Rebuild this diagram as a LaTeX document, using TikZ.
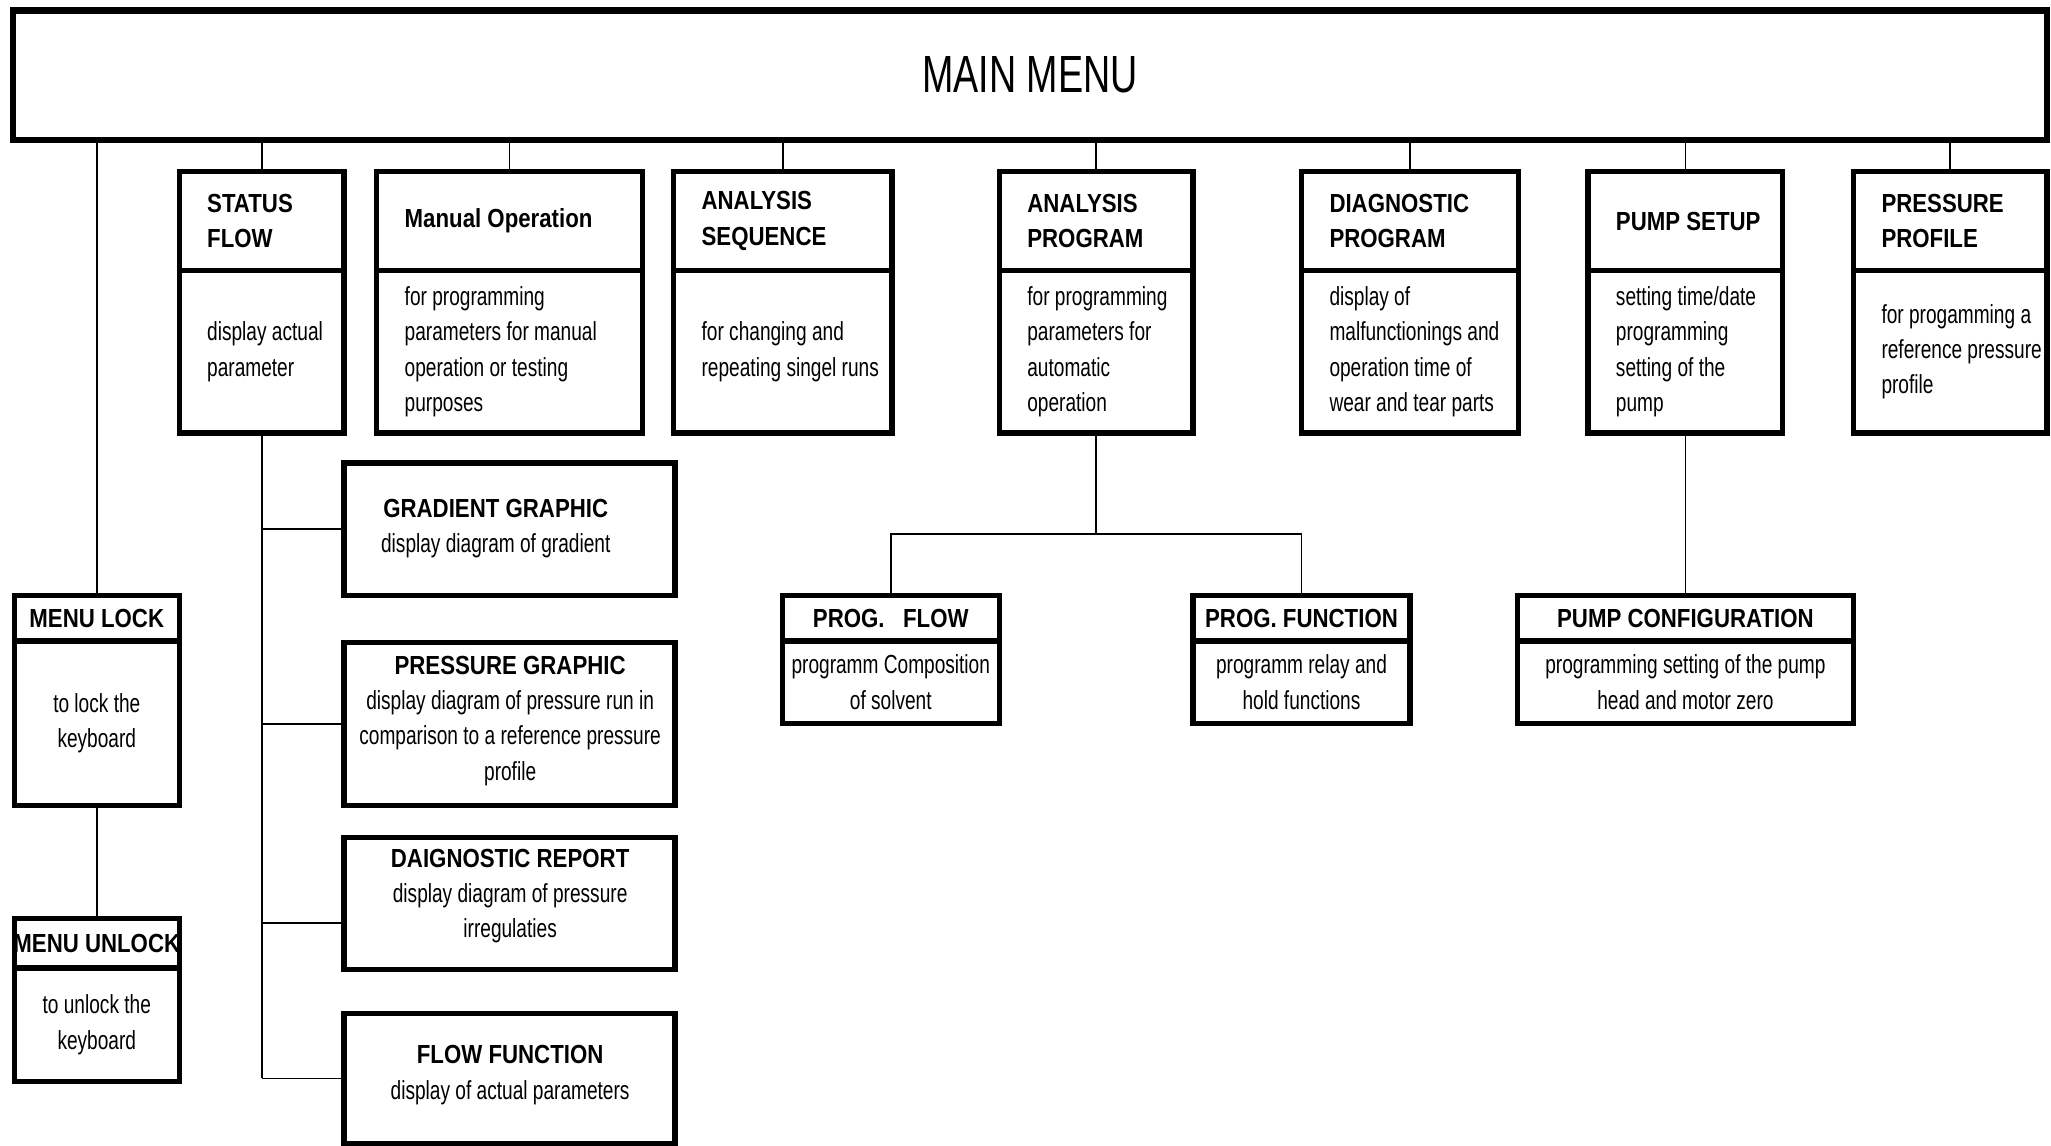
\documentclass[tikz,border=0pt]{standalone}
\usepackage{fontspec}
\setmainfont{Liberation Sans}
\newfontfamily\mainf{Liberation Sans}[FakeStretch=0.72]
\newfontfamily\ttlf{Liberation Sans}[FakeStretch=0.85]
\newfontfamily\bodf{Liberation Sans}[FakeStretch=0.73]
\usetikzlibrary{fit}
\tikzset{
  box/.style={draw, line width=2pt, inner sep=0pt},
  mainbox/.style={draw, line width=2.4pt, inner sep=0pt},
  conn/.style={line width=0.7pt},
  ttl/.style={font=\ttlf\bfseries\fontsize{10}{13.5}\selectfont, inner sep=0pt, align=left, anchor=west},
  ttlc/.style={font=\ttlf\bfseries\fontsize{10}{13.5}\selectfont, inner sep=0pt, align=center},
  bod/.style={font=\bodf\fontsize{10}{13.5}\selectfont, inner sep=0pt, align=left, anchor=west},
  bodc/.style={font=\bodf\fontsize{10}{13.5}\selectfont, inner sep=0pt, align=center},
  mixc/.style={font=\fontsize{10}{13.5}\selectfont, inner sep=0pt, align=center},
  maintxt/.style={font=\mainf\fontsize{20}{24}\selectfont, inner sep=0pt}
}
\newcommand\mytwobox[6]{%
  \node[box, fit={(#2,#4)(#3,#5)}] (#1T) {};
  \node[box, fit={(#2,#5)(#3,#6)}] (#1B) {};
}
\begin{document}
\begin{tikzpicture}[x=0.5pt,y=-0.5pt]
\useasboundingbox (0,0) rectangle (1568,876);
% main
\node[mainbox, fit={(10,8)(1565,107)}] (main) {};
\node[maintxt] (maint) at (main.center) {MAIN MENU};
% top row
\mytwobox{sf}{137}{263}{131}{207}{331}
\mytwobox{mo}{288}{491}{131}{207}{331}
\mytwobox{as}{515}{682}{131}{207}{331}
\mytwobox{ap}{764}{912}{131}{207}{331}
\mytwobox{dp}{995}{1161}{131}{207}{331}
\mytwobox{ps}{1214}{1363}{131}{207}{331}
\mytwobox{pp}{1417}{1565}{131}{207}{331}
\node[ttl] (sft) at ([xshift=11.5pt]sfT.west) {STATUS\\FLOW};
\node[bod] (sfb) at ([xshift=11.5pt]sfB.west) {display actual\\parameter};
\node[ttl] (mot) at ([xshift=11.5pt]moT.west) {Manual Operation};
\node[bod] (mob) at ([xshift=11.5pt]moB.west) {for programming\\parameters for manual\\operation or testing\\purposes};
\node[ttl] (ast) at ([xshift=11.5pt]asT.west) {ANALYSIS\\SEQUENCE};
\node[bod] (asb) at ([xshift=11.5pt]asB.west) {for changing and\\repeating singel runs};
\node[ttl] (apt) at ([xshift=11.5pt]apT.west) {ANALYSIS\\PROGRAM};
\node[bod] (apb) at ([xshift=11.5pt]apB.west) {for programming\\parameters for\\automatic\\operation};
\node[ttl] (dpt) at ([xshift=11.5pt]dpT.west) {DIAGNOSTIC\\PROGRAM};
\node[bod] (dpb) at ([xshift=11.5pt]dpB.west) {display of\\malfunctionings and\\operation time of\\wear and tear parts};
\node[ttl] (pst) at ([xshift=11.5pt]psT.west) {PUMP SETUP};
\node[bod] (psb) at ([xshift=11.5pt]psB.west) {setting time/date\\programming\\setting of the\\pump};
\node[ttl] (ppt) at ([xshift=11.5pt]ppT.west) {PRESSURE\\PROFILE};
\node[bod] (ppb) at ([xshift=11.5pt]ppB.west) {for progamming a\\reference pressure\\profile};
% left column
\mytwobox{ml}{11}{137}{455}{490}{616}
\mytwobox{mu}{11}{137}{702}{740}{827}
\node[ttlc] (mlt) at (mlT.center) {MENU LOCK};
\node[bodc] (mlb) at (mlB.center) {to lock the\\keyboard};
\begin{scope}
  \clip (13,704) rectangle (135,738);
  \node[ttlc] (mut) at (muT.center) {MENU UNLOCK};
\end{scope}
\node[bodc] (mub) at (muB.center) {to unlock the\\keyboard};
% status flow children
\node[box, fit={(263,354)(516,455)}] (gg) {};
\node[box, fit={(263,491)(516,616)}] (pg) {};
\node[box, fit={(263,640)(516,741)}] (dr) {};
\node[box, fit={(263,775)(516,874)}] (ff) {};
\node[mixc] (ggt) at (379,404) {{\ttlf\bfseries GRADIENT GRAPHIC}\\{\bodf display diagram of gradient}};
\node[mixc] (pgt) at (390,551) {{\ttlf\bfseries PRESSURE GRAPHIC}\\{\bodf display diagram of pressure run in}\\{\bodf comparison to a reference pressure}\\{\bodf profile}};
\node[mixc] (drt) at (390,685) {{\ttlf\bfseries DAIGNOSTIC REPORT}\\{\bodf display diagram of pressure}\\{\bodf irregulaties}};
\node[mixc] (fft) at (390,822) {{\ttlf\bfseries FLOW FUNCTION}\\{\bodf display of actual parameters}};
% program children
\mytwobox{pf}{598}{764}{455}{490}{553}
\mytwobox{pfn}{912}{1078}{455}{490}{553}
\mytwobox{pc}{1160}{1417}{455}{490}{553}
\node[ttlc] (pft) at (pfT.center) {PROG.\ \ \ FLOW};
\node[bodc] (pfb) at (pfB.center) {programm Composition\\of solvent};
\node[ttlc] (pfnt) at (pfnT.center) {PROG. FUNCTION};
\node[bodc] (pfnb) at (pfnB.center) {programm relay and\\hold functions};
\node[ttlc] (pct) at (pcT.center) {PUMP CONFIGURATION};
\node[bodc] (pcb) at (pcB.center) {programming setting of the pump\\head and motor zero};
% connectors from main
\foreach \n in {sf,mo,as,ap,dp,ps,pp,ml}
  \draw[conn] (\n T.north |- main.south) -- (\n T.north);
\draw[conn] (mlB.south) -- (muT.north);
% status flow tree
\coordinate (drj) at ([yshift=-7.5pt]dr.west);
\draw[conn] (sfB.south) -- (sfB.south |- ff.west);
\draw[conn] (sfB.south |- gg.west) -- (gg.west);
\draw[conn] (sfB.south |- pg.west) -- (pg.west);
\draw[conn] (sfB.south |- drj) -- (drj);
\draw[conn] (sfB.south |- ff.west) -- (ff.west);
% analysis program tree
\draw[conn] (apB.south) -- ++(0,75) coordinate (apj);
\draw[conn] (pfT.north) |- (apj) -| (pfnT.north);
% pump setup
\draw[conn] (psB.south) -- (pcT.north);
\end{tikzpicture}
\end{document}
